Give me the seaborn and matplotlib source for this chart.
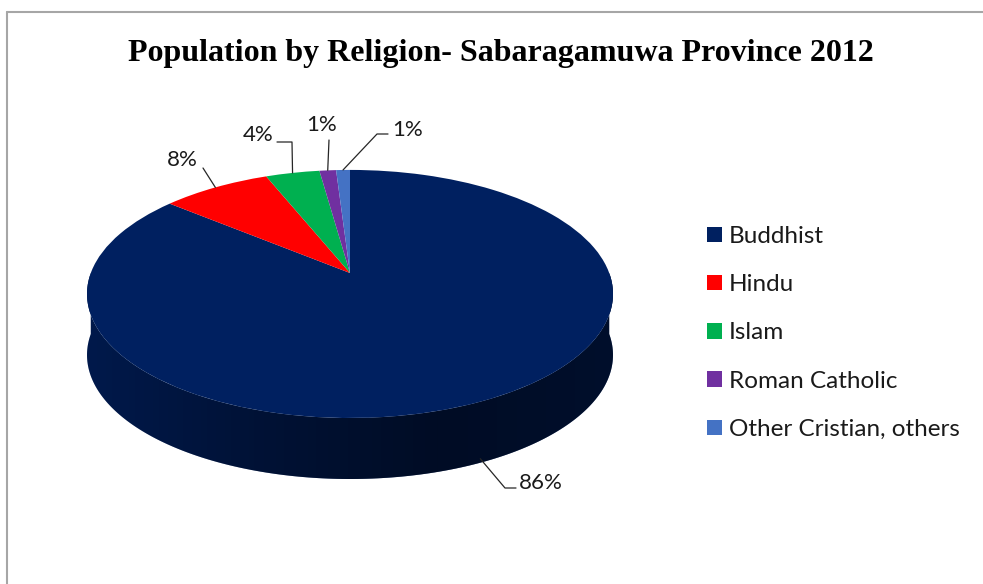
import numpy as np
import matplotlib.pyplot as plt
import seaborn as sns
from matplotlib.transforms import Transform
from matplotlib.patches import Polygon, Rectangle
from matplotlib.colors import LinearSegmentedColormap

# Data
religions = ["Buddhist", "Hindu", "Islam", "Roman Catholic", "Other Cristian, others"]
shares = [86.0, 7.9, 3.9, 1.2, 1.0]
pct_labels = ["86%", "8%", "4%", "1%", "1%"]
colors = ["#002060", "#FF0000", "#00B050", "#7030A0", "#4472C4"]

sns.set_theme(style="white")
plt.rcParams["font.family"] = ["Lato", "DejaVu Sans"]

W, H = 983, 584

# tilted-disc geometry (pixels, y measured from top)
cx, cy0 = 350, 273          # where the disc centre lands
A, B, p = 259.2, 120.5, 0.169
depth = 61


class Tilt(Transform):
    """Perspective view of the unit disc used by ax.pie."""
    input_dims = output_dims = 2

    def transform_non_affine(self, pts):
        pts = np.asarray(pts, dtype=float)
        u, v = pts[:, 0], pts[:, 1]
        w = 1 + p * v
        return np.column_stack([cx + A * u / w, H - (cy0 - B * v / w)])


tilt = Tilt()

fig = plt.figure(figsize=(W / 100, H / 100), dpi=100)
ax = fig.add_axes([0, 0, 1, 1])

# side wall (front half of the disc), coloured by the slice in front
t = np.linspace(np.pi, 2 * np.pi, 200)
rim = tilt.transform(np.column_stack([np.cos(t), np.sin(t)]))
fracs = np.array(shares) / sum(shares)
ends = 90 - 360 * np.cumsum(fracs)
starts = ends + 360 * fracs
ang = np.degrees(t)
wall_all = np.vstack([rim, rim[::-1] - [0, depth]])
for s, e, col in zip(starts, ends, colors):
    a = (ang - e) % 360
    m = a <= (s - e)
    if m.sum() < 2:
        continue
    seg = rim[m]
    poly = np.vstack([seg, seg[::-1] - [0, depth]])
    ax.add_patch(Polygon(poly, closed=True, facecolor=col, edgecolor="none", zorder=1))

# shading gradient over the wall
shade = LinearSegmentedColormap.from_list(
    "shade", [(0, 0, 0, 0.22), (0, 0, 0, 0.45), (0, 0, 0, 0.62), (0, 0, 0, 0.55)])
clip = Polygon(wall_all, closed=True, transform=ax.transData, facecolor="none", edgecolor="none")
ax.add_patch(clip)
xmin, xmax = wall_all[:, 0].min(), wall_all[:, 0].max()
ymin, ymax = wall_all[:, 1].min(), wall_all[:, 1].max()
im = ax.imshow(np.linspace(0, 1, 256)[None, :], cmap=shade, extent=[xmin, xmax, ymin, ymax],
               aspect="auto", zorder=1.5, interpolation="bilinear")
im.set_clip_path(clip)

# top face
wedges, _ = ax.pie(shares, colors=colors, startangle=90, counterclock=False,
                   radius=1, center=(0, 0), frame=False,
                   wedgeprops=dict(linewidth=0))
for w in wedges:
    w.set_transform(tilt + ax.transData)
    w.set_zorder(2)

ax.set_aspect("auto")
ax.set_xlim(0, W)
ax.set_ylim(0, H)
ax.axis("off")

# percentage labels with leader lines
label_pos = [(519, 483), (182, 160), (258, 135), (322, 125), (408, 130)]
bends = [(505, 488), (203, 168), (292, 142), (329, 140), (377, 134)]
tails = [(516, 488), None, (277, 142), None, (388, 134)]
mids = np.radians((starts + ends) / 2)
for i, (txt, (lx, ly)) in enumerate(zip(pct_labels, label_pos)):
    ax_pt = tilt.transform(np.array([[np.cos(mids[i]), np.sin(mids[i])]]))[0]
    if np.sin(mids[i]) < 0:
        ax_pt = ax_pt - [0, depth - 4]
    pts = [ax_pt, (bends[i][0], H - bends[i][1])]
    if tails[i] is not None:
        pts.append((tails[i][0], H - tails[i][1]))
    pts = np.array(pts)
    ax.plot(pts[:, 0], pts[:, 1], color="#262626", lw=0.9, zorder=3)
    ha = "left" if i == 0 else "center"
    ax.text(lx, H - ly, txt, fontsize=16, ha=ha, va="center", color="#1a1a1a", zorder=4)

# legend
handles = [Rectangle((0, 0), 1, 1, facecolor=c, edgecolor="none") for c in colors]
leg = fig.legend(handles, religions, loc="upper left", bbox_to_anchor=(707 / W, 1 - 226 / H),
                 frameon=False, fontsize=17.5, handlelength=0.6, handleheight=0.6,
                 handletextpad=0.3, labelspacing=1.12, borderaxespad=0, borderpad=0)
for txt in leg.get_texts():
    txt.set_color("#1a1a1a")

# title
fig.text(501 / W, 1 - 54 / H, "Population by Religion- Sabaragamuwa Province 2012",
         ha="center", va="center", fontsize=23, fontweight="bold",
         family=["Liberation Serif", "DejaVu Serif"], color="black")

# chart frame (top and left edges visible)
fig.add_artist(plt.Line2D([6.5 / W, 6.5 / W], [0, 1 - 11.5 / H], color="#a6a6a6", lw=1.5,
                          transform=fig.transFigure))
fig.add_artist(plt.Line2D([6.5 / W, 1], [1 - 11.5 / H, 1 - 11.5 / H], color="#a6a6a6", lw=1.5,
                          transform=fig.transFigure))

fig.savefig("out.png", dpi=100, facecolor="white")
